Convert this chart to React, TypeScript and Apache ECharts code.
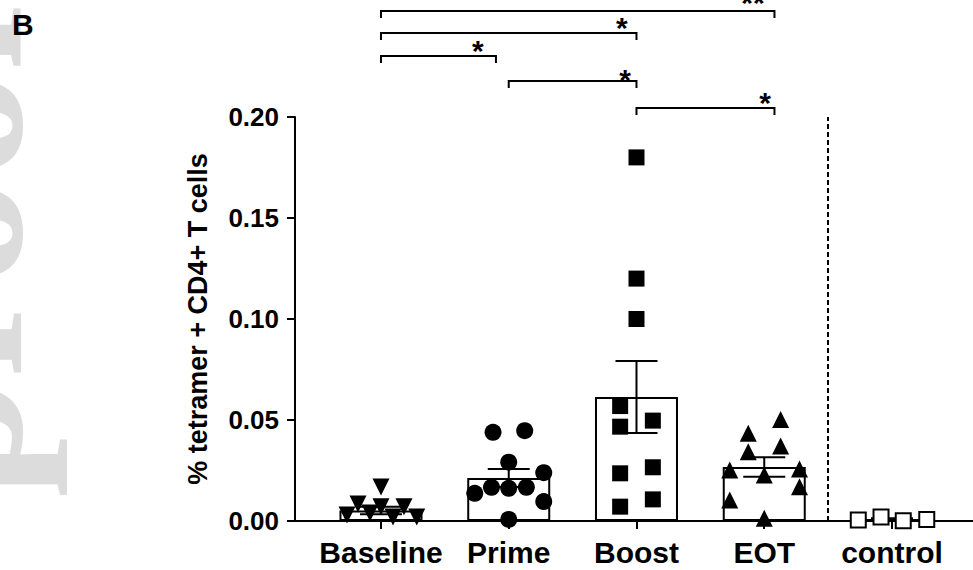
import React, { useEffect, useRef } from "react";
import * as echarts from "echarts";

const FONT = '"Liberation Sans", Arial, Helvetica, sans-serif';

const categories = ["Baseline", "Prime", "Boost", "EOT", "control"];
const yTicks = [0, 0.05, 0.1, 0.15, 0.2];

// bar means and SEM per group
const groupMeans = [0.0052, 0.0213, 0.0614, 0.0267, 0.0009];
const groupSem = [0.0018, 0.0045, 0.0178, 0.0048, 0.0004];

// individual points: horizontal offset (category units) and value
const baselineOffsets = [-0.266, -0.18, -0.086, 0, 0, 0.094, 0.18, 0.28];
const baselineValues = [0.003, 0.0084, 0.004, 0.0168, 0.007, 0.002, 0.007, 0.002];

const primeOffsets = [-0.123, 0.125, 0, 0.274, -0.266, -0.135, 0, 0.138, 0.274, 0];
const primeValues = [0.0439, 0.0447, 0.0291, 0.0239, 0.0137, 0.0167, 0.0162, 0.0167, 0.0096, 0.0008];

const boostOffsets = [0, 0, 0, -0.128, -0.128, 0.128, -0.128, 0.128, -0.128, 0.128];
const boostValues = [0.18, 0.12, 0.1, 0.0569, 0.0467, 0.0497, 0.0236, 0.0266, 0.0071, 0.0107];

const eotOffsets = [0.128, -0.125, -0.125, 0.128, -0.27, 0, 0.276, 0.276, -0.27, 0];
const eotValues = [0.0503, 0.0434, 0.0343, 0.0371, 0.0252, 0.0228, 0.0257, 0.017, 0.0104, 0.0013];

const controlOffsets = [-0.264, -0.086, 0.088, 0.272];
const controlValues = [0.0005, 0.002, 0.0001, 0.0008];

// significance brackets: from, to, bracket level, star position and level
const bracketFrom = [0, 0, 0, 1, 2];
const bracketTo = [3.08, 2, 0.9, 2, 3.08];
const bracketLevel = [0.2525, 0.2416, 0.2302, 0.2178, 0.2045];
const bracketStarX = [2.912, 1.886, 0.759, 1.91, 3.006];
const bracketStarLevel = [0.2569, 0.2441, 0.2327, 0.2188, 0.2074];
const bracketStars = ["**", "*", "*", "*", "*"];

const dividerAt = 3.5;

function pts(groupIndex: number, offsets: number[], values: number[]) {
  return values.map((v, i) => [groupIndex + offsets[i], v]);
}

export default function App() {
  const ref = useRef<HTMLDivElement>(null);
  useEffect(() => {
    if (!ref.current) return;
    const chart = echarts.init(ref.current, null, { renderer: "svg" });
    const black = "#000";
    const bracketData = bracketFrom.map((f, i) => [f, bracketTo[i], bracketLevel[i], bracketStarX[i], bracketStarLevel[i]]);
    const dot = { color: black, opacity: 1 };
    const option: any = {
      animation: false,
      backgroundColor: "#fff",
      grid: { left: 295, right: 0, top: 117, bottom: 49, containLabel: false },
      graphic: [
        {
          type: "text",
          x: -52,
          y: 0,
          rotation: Math.PI / 2,
          z: -10,
          silent: true,
          style: {
            text: "Journal Pre-proof",
            font: 'bold 215px "Liberation Serif", "Times New Roman", serif',
            fill: "#dcdcdc",
            align: "right",
            verticalAlign: "middle",
          },
        },
        {
          type: "text",
          x: 12,
          y: 9,
          z: 10,
          style: {
            text: "B",
            font: `bold 30px ${FONT}`,
            fill: black,
            align: "left",
            verticalAlign: "top",
          },
        },
      ],
      xAxis: {
        type: "value",
        min: -0.673,
        max: 4.634,
        splitLine: { show: false },
        axisLine: { show: true, onZero: false, lineStyle: { color: black, width: 2 } },
        axisTick: { show: true, customValues: [0, 1, 2, 3, 4], length: 8, lineStyle: { color: black, width: 2 } },
        axisLabel: {
          customValues: [0, 1, 2, 3, 4],
          formatter: (v: number) => categories[Math.round(v)] ?? "",
          margin: 16,
          fontSize: 30,
          fontWeight: "bold",
          fontFamily: FONT,
          color: black,
        },
      },
      yAxis: {
        type: "value",
        min: yTicks[0],
        max: yTicks[yTicks.length - 1],
        interval: 0.05,
        splitLine: { show: false },
        axisLine: { show: true, onZero: false, lineStyle: { color: black, width: 2 } },
        axisTick: { show: true, length: 8, lineStyle: { color: black, width: 2 } },
        axisLabel: {
          formatter: (v: number) => v.toFixed(2),
          margin: 16,
          fontSize: 26,
          fontWeight: "bold",
          fontFamily: FONT,
          color: black,
        },
        name: "% tetramer + CD4+ T cells",
        nameLocation: "middle",
        nameGap: 84,
        nameTextStyle: { fontSize: 27, fontWeight: "bold", fontFamily: FONT, color: black },
      },
      series: [
        {
          type: "bar",
          data: groupMeans.map((m, i) => [i, m]),
          barWidth: 83,
          z: 2,
          itemStyle: { color: "#fff", borderColor: black, borderWidth: 2, opacity: 1 },
          markLine: {
            silent: true,
            symbol: ["none", "none"],
            label: { show: false },
            lineStyle: { type: [5, 3], color: black, width: 2, opacity: 1 },
            data: [{ xAxis: dividerAt }],
          },
        },
        {
          type: "custom",
          z: 3,
          data: groupMeans.map((m, i) => [i, m, groupSem[i]]),
          encode: { x: 0, y: 1 },
          renderItem: (params: any, api: any) => {
            const x = api.value(0);
            const m = api.value(1);
            const s = api.value(2);
            const top = api.coord([x, m + s]);
            const bot = api.coord([x, m - s]);
            const hw = 21;
            const st = { stroke: black, lineWidth: 2 };
            return {
              type: "group",
              children: [
                { type: "line", shape: { x1: top[0], y1: top[1], x2: bot[0], y2: bot[1] }, style: st },
                { type: "line", shape: { x1: top[0] - hw, y1: top[1], x2: top[0] + hw, y2: top[1] }, style: st },
                { type: "line", shape: { x1: bot[0] - hw, y1: bot[1], x2: bot[0] + hw, y2: bot[1] }, style: st },
              ],
            };
          },
        },
        {
          type: "scatter",
          z: 4,
          symbol: "triangle",
          symbolRotate: 180,
          symbolSize: 17,
          itemStyle: dot,
          data: pts(0, baselineOffsets, baselineValues),
        },
        {
          type: "scatter",
          z: 4,
          symbol: "circle",
          symbolSize: 17,
          itemStyle: dot,
          data: pts(1, primeOffsets, primeValues),
        },
        {
          type: "scatter",
          z: 4,
          symbol: "rect",
          symbolSize: 16,
          itemStyle: dot,
          data: pts(2, boostOffsets, boostValues),
        },
        {
          type: "scatter",
          z: 4,
          symbol: "triangle",
          symbolSize: 17,
          itemStyle: dot,
          data: pts(3, eotOffsets, eotValues),
        },
        {
          type: "scatter",
          z: 4,
          symbol: "rect",
          symbolSize: 15,
          itemStyle: { color: "#fff", borderColor: black, borderWidth: 2, opacity: 1 },
          data: pts(4, controlOffsets, controlValues),
        },
        {
          type: "custom",
          z: 5,
          clip: false,
          data: bracketData,
          encode: { x: [0, 1, 3], y: 2 },
          renderItem: (params: any, api: any) => {
            const a = api.coord([api.value(0), api.value(2)]);
            const b = api.coord([api.value(1), api.value(2)]);
            const s = api.coord([api.value(3), api.value(4)]);
            const drop = 7;
            return {
              type: "group",
              children: [
                {
                  type: "polyline",
                  shape: { points: [[a[0], a[1] + drop], [a[0], a[1]], [b[0], b[1]], [b[0], b[1] + drop]] },
                  style: { stroke: black, lineWidth: 2, fill: "none" },
                },
                {
                  type: "text",
                  x: s[0],
                  y: s[1],
                  style: {
                    text: bracketStars[params.dataIndex],
                    font: `bold 30px ${FONT}`,
                    fill: black,
                    align: "center",
                    verticalAlign: "middle",
                  },
                },
              ],
            };
          },
        },
      ],
    };
    chart.setOption(option);
    return () => chart.dispose();
  }, []);
  return (
    <div
      ref={ref}
      style={{ position: "absolute", left: 0, top: 0, width: 973, height: 570, background: "#fff" }}
    />
  );
}
